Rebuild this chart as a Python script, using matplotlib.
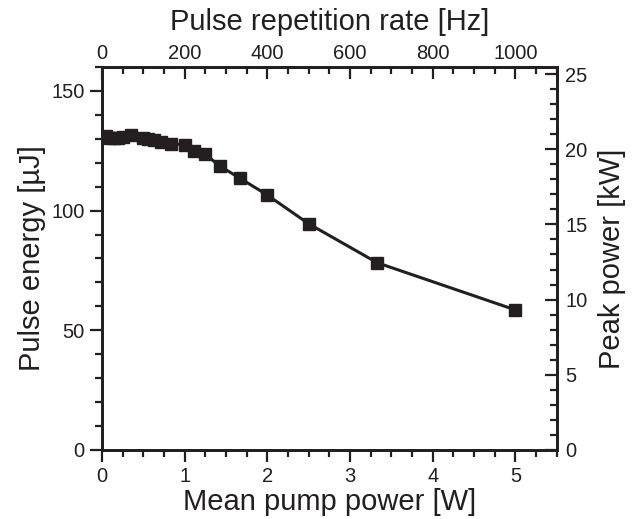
import matplotlib.pyplot as plt
from matplotlib.ticker import MultipleLocator

plt.rcParams['font.family'] = ['Liberation Sans', 'DejaVu Sans']

# mean pump power [W] and pulse energy [uJ]
pump_power = [0.05, 0.1, 0.15, 0.2, 0.25, 0.35, 0.5, 0.556, 0.625, 0.714,
              0.833, 1.0, 1.11, 1.25, 1.43, 1.67, 2.0, 2.5, 3.33, 5.0]
pulse_energy = [131, 130.5, 130.5, 130.5, 130.8, 131.5, 130.5, 130, 129.5, 128.8,
                128, 127.5, 125, 123.5, 118.5, 113.5, 106.5, 94.5, 78.2, 58.5]

ink = '#231f20'

fig = plt.figure(figsize=(6.37, 5.19), dpi=100)
ax = fig.add_axes([0.160, 0.133, 0.714, 0.738])

ax.plot(pump_power, pulse_energy, '-s', color=ink, lw=2.2,
        markersize=8.5, markerfacecolor=ink, markeredgecolor=ink)

ax.set_xlim(0, 5.5)
ax.set_ylim(0, 160)
ax.xaxis.set_major_locator(MultipleLocator(1))
ax.xaxis.set_minor_locator(MultipleLocator(0.25))
ax.yaxis.set_major_locator(MultipleLocator(50))
ax.yaxis.set_minor_locator(MultipleLocator(10))
ax.set_xlabel('Mean pump power [W]', fontsize=21, color=ink, labelpad=1)
ax.set_ylabel('Pulse energy [\u00b5J]', fontsize=21, color=ink, labelpad=4)

# top axis: repetition rate
ax_top = ax.twiny()
ax_top.set_xlim(0, 1100)
ax_top.xaxis.set_major_locator(MultipleLocator(200))
ax_top.xaxis.set_minor_locator(MultipleLocator(50))
ax_top.set_xlabel('Pulse repetition rate [Hz]', fontsize=21, color=ink, labelpad=10)

# right axis: peak power
ax_right = ax.twinx()
ax_right.set_ylim(0, 25.47)
ax_right.yaxis.set_major_locator(MultipleLocator(5))
ax_right.yaxis.set_minor_locator(MultipleLocator(1))
ax_right.set_ylabel('Peak power [kW]', fontsize=21, color=ink, labelpad=8)

for a in (ax, ax_top, ax_right):
    for s in a.spines.values():
        s.set_linewidth(1.8)
        s.set_color(ink)

ax.tick_params(which='both', direction='out', width=1.6, color=ink,
               labelsize=14.5, labelcolor=ink, top=False, right=False, pad=4)
ax.tick_params(which='major', length=8.5)
ax.tick_params(which='minor', length=5)
ax_top.tick_params(which='both', direction='in', width=1.6, color=ink,
                   labelsize=14.5, labelcolor=ink, pad=3)
ax_top.tick_params(which='major', length=8.5)
ax_top.tick_params(which='minor', length=5)
ax_right.tick_params(which='both', direction='in', width=1.6, color=ink,
                     labelsize=14.5, labelcolor=ink, pad=6)
ax_right.tick_params(which='major', length=8.5)
ax_right.tick_params(which='minor', length=5)

fig.savefig('out.png', dpi=100)
